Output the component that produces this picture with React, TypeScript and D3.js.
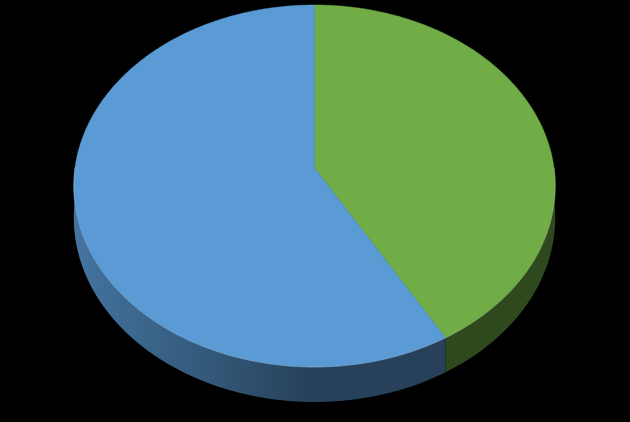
import { useEffect, useRef } from "react";
import * as d3 from "d3";

// Slice data (clockwise from 12 o'clock)
const categories = ["Part A", "Part B"];
const values = [5, 7];
const colors = ["#70AD47", "#5B9BD5"];

const W = 630;
const H = 422;

// perspective parameters of the pie disc
const CX = 314.5;
const A = 162.5;
const B = 168; // projected centre of the disc (apex of slices)
const C = -0.0994;
const K = 239.5;
const DEPTH = 31.5;

// project an angle on the rim (clockwise from top) at height z (0 = top, 1 = bottom)
const proj = (theta: number, z = 0): [number, number] => {
  const t = -Math.cos(theta);
  const s = Math.sin(theta);
  const den = 1 + C * t;
  return [CX + (K * s) / den, (A * t + B) / den + (z * DEPTH) / den];
};

export default function App() {
  const svgRef = useRef<SVGSVGElement | null>(null);

  useEffect(() => {
    document.body.style.margin = "0";
    document.body.style.background = "#000";
    const svg = d3.select(svgRef.current);
    svg.selectAll("*").remove();

    const arcs = d3.pie<number>().sort(null)(values);
    const step = Math.PI / 360;
    const defs = svg.append("defs");

    // side shading: lit from the left, dark toward the front and right
    const shade = (x: number) => 0.42 + 0.33 * Math.max(0, (CX - x) / K);
    const xs = d3.range(0, 1.0001, 0.1).map((f) => CX - K + f * 2 * K);

    // side wall (front half only)
    const side = svg.append("g");
    arcs.forEach((a, i) => {
      const s0 = Math.max(a.startAngle, Math.PI / 2);
      const s1 = Math.min(a.endAngle, (3 * Math.PI) / 2);
      if (s1 <= s0) return;
      const grad = defs
        .append("linearGradient")
        .attr("id", `side-${i}`)
        .attr("gradientUnits", "userSpaceOnUse")
        .attr("x1", CX - K)
        .attr("x2", CX + K)
        .attr("y1", 0)
        .attr("y2", 0);
      xs.forEach((x, j) => {
        grad
          .append("stop")
          .attr("offset", j / (xs.length - 1))
          .attr("stop-color", d3.interpolateRgb("#000", colors[i])(shade(x)));
      });
      const angles = d3.range(s0, s1, step).concat([s1]);
      const pts = angles
        .map((t) => proj(t))
        .concat(angles.slice().reverse().map((t) => proj(t, 1)));
      side
        .append("path")
        .attr("d", d3.line()(pts) + "Z")
        .attr("fill", `url(#side-${i})`);
    });

    // top face slices
    const top = svg.append("g");
    arcs.forEach((a, i) => {
      const n = Math.ceil((a.endAngle - a.startAngle) / step);
      const pts: [number, number][] = [[CX, B]];
      for (let j = 0; j <= n; j++) {
        pts.push(proj(a.startAngle + ((a.endAngle - a.startAngle) * j) / n));
      }
      top
        .append("path")
        .attr("d", d3.line()(pts) + "Z")
        .attr("fill", colors[i])
        .attr("stroke", colors[i])
        .attr("stroke-width", 0.5)
        .append("title")
        .text(`${categories[i]}: ${values[i]}`);
    });

    // faint highlight along the front rim
    const rim: [number, number][] = d3
      .range(Math.PI / 2, (3 * Math.PI) / 2 + step, step)
      .map((t) => proj(t));
    svg
      .append("path")
      .attr("d", d3.line()(rim))
      .attr("fill", "none")
      .attr("stroke", "rgba(255,255,255,0.18)")
      .attr("stroke-width", 1);
  }, []);

  return (
    <svg
      ref={svgRef}
      width={W}
      height={H}
      viewBox={`0 0 ${W} ${H}`}
      style={{ display: "block", background: "#000" }}
    />
  );
}
